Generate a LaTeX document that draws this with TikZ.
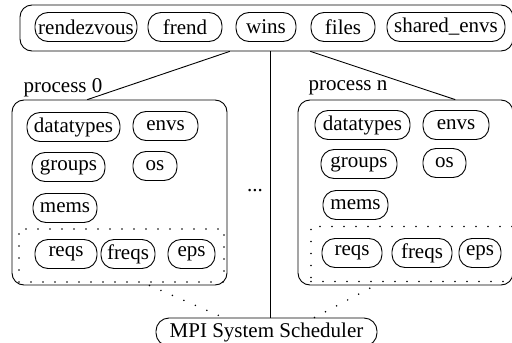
\documentclass[tikz,border=0pt]{standalone}
\usepackage{fontspec}
\setmainfont{Liberation Serif}
\usetikzlibrary{calc}
\begin{document}
\begin{tikzpicture}[x=1pt,y=-1pt,line width=0.9pt,line join=round,line cap=round,font=\fontsize{21}{25}\selectfont,
	cell/.style={draw,rounded corners=13pt,inner sep=0pt,minimum height=29pt},
	frame/.style={draw,rounded corners=12pt,inner sep=0pt},
	dotbox/.style={draw,line width=1.7pt,dash pattern=on 0pt off 12pt,inner sep=0pt},
	dotline/.style={line width=1.7pt,dash pattern=on 0pt off 12.5pt}]
			\useasboundingbox (0,0) rectangle (512,343);
			\clip (0,0) rectangle (512,343);
			% shared part
			\node[frame,minimum width=493pt,minimum height=46pt] (common) at (266.5,28) {};
			\node[cell,minimum width=102pt] (rdv) at (86,27) {rendezvous};
			\node[cell,minimum width=74pt] (frend) at (185,27) {frend};
			\node[cell,minimum width=60pt] (wins) at (266,27) {wins};
			\node[cell,minimum width=64pt] (files) at (343,27) {files};
			\node[cell,minimum width=118pt] (shenv) at (446,27) {shared\_envs};
			% process 0
			\node (lbl0) at (63,88) {process 0};
			\node[frame,minimum width=215pt,minimum height=185pt] (proc0) at (119.5,192.5) {};
			\node[cell,minimum width=93pt] (dt0) at (73.5,127) {datatypes};
			\node[cell,minimum width=65pt] (env0) at (165.5,126) {envs};
			\node[cell,minimum width=73pt] (grp0) at (68.5,167) {groups};
			\node[cell,minimum width=44pt] (os0) at (155,166) {os};
			\node[cell,minimum width=64pt] (mem0) at (65,208) {mems};
			\node[dotbox,minimum width=205pt,minimum height=53pt] (req0) at (121.5,255.5) {};
			\node[cell,minimum width=62pt] (rq0) at (66,254) {reqs};
			\node[cell,minimum width=54pt] (frq0) at (128,254) {freqs};
			\node[cell,minimum width=47pt] (eps0) at (191.5,254) {eps};
			% process n
			\node (lbln) at (348,88) {process n};
			\node[frame,minimum width=215pt,minimum height=185pt] (procn) at (405.5,192.5) {};
			\node[cell,minimum width=95pt] (dtn) at (362.5,125) {datatypes};
			\node[cell,minimum width=66pt] (envn) at (456,125) {envs};
			\node[cell,minimum width=76pt] (grpn) at (359,164) {groups};
			\node[cell,minimum width=43pt] (osn) at (444.5,163) {os};
			\node[cell,minimum width=65pt] (memn) at (355.5,205) {mems};
			\node[dotbox,minimum width=205pt,minimum height=55pt] (reqn) at (413.5,254) {};
			\node[cell,minimum width=60pt] (rqn) at (352,253) {reqs};
			\node[cell,minimum width=60pt] (frqn) at (422,253) {freqs};
			\node[cell,minimum width=42pt] (epsn) at (480,253) {eps};
			\node (dots) at (255,191) {...};
			\node[cell,minimum width=221pt,minimum height=28pt] (sched) at (266.5,332) {MPI System Scheduler};
			% links
			\draw ([xshift=-6pt]wins.west |- common.south)--([xshift=-32pt]proc0.north);
			\draw ([xshift=4pt]sched.north |- common.south)--([xshift=4pt]sched.north);
			\draw (files.west |- common.south)--([xshift=49.5pt]procn.north);
			\draw[dotline] ([xshift=30pt]proc0.south)--([xshift=-43pt]sched.north);
			\draw[dotline] ([xshift=48pt]sched.north)--([xshift=-30.5pt]procn.south);
			
			\end{tikzpicture}
\end{document}
